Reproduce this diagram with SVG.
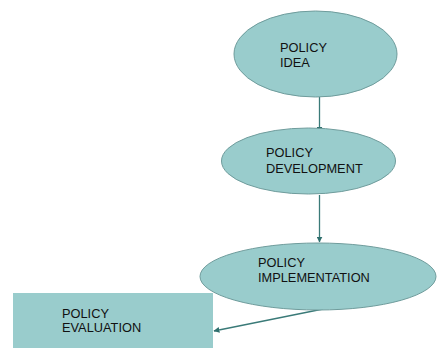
<svg xmlns="http://www.w3.org/2000/svg" width="437" height="348" viewBox="0 0 437 348">
  <style>
    .shape { fill: #99cccc; stroke: #6f9c9c; stroke-width: 1; }
    .box { fill: #99cccc; stroke: none; }
    .label { font-family: "Liberation Sans", Arial, sans-serif; font-size: 12.8px; fill: #111; }
    .link { stroke: #3a7a78; stroke-width: 1.3; fill: none; marker-end: url(#head); }
  </style>
  <defs>
    <marker id="head" viewBox="0 0 10 10" refX="9" refY="5" markerWidth="6" markerHeight="6" orient="auto" markerUnits="userSpaceOnUse">
      <path d="M0,0 L10,5 L0,10 z" fill="#2f6f6d"/>
    </marker>
  </defs>
  <rect width="437" height="348" fill="#ffffff"/>

  <g id="connectors">
    <line class="link" x1="319.5" y1="97" x2="319.5" y2="132"/>
    <line class="link" x1="319.5" y1="195" x2="319.5" y2="242"/>
    <line class="link" x1="323" y1="309" x2="214" y2="331"/>
  </g>

  <g id="policy-idea">
    <ellipse class="shape" cx="315.5" cy="54" rx="81.5" ry="43"/>
    <text class="label" x="280" y="52">POLICY</text>
    <text class="label" x="280" y="67">IDEA</text>
  </g>

  <g id="policy-development">
    <ellipse class="shape" cx="308.5" cy="161" rx="87" ry="33"/>
    <text class="label" x="266" y="157">POLICY</text>
    <text class="label" x="266" y="173">DEVELOPMENT</text>
  </g>

  <g id="policy-implementation">
    <ellipse class="shape" cx="318" cy="276.5" rx="118" ry="33.5"/>
    <text class="label" x="258" y="267">POLICY</text>
    <text class="label" x="258" y="282">IMPLEMENTATION</text>
  </g>

  <g id="policy-evaluation">
    <rect class="box" x="13" y="293" width="200" height="60"/>
    <text class="label" x="62" y="318">POLICY</text>
    <text class="label" x="62" y="332">EVALUATION</text>
  </g>
</svg>
